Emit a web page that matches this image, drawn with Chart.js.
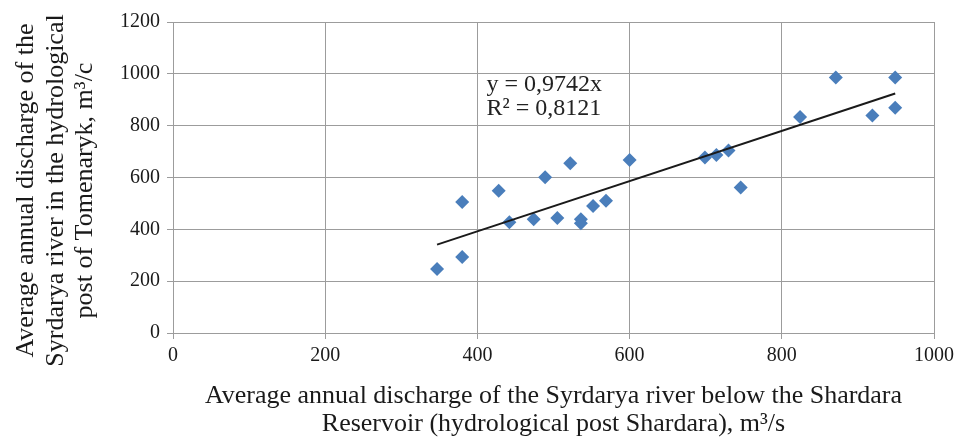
<!DOCTYPE html>
<html>
<head>
<meta charset="utf-8">
<script src="https://cdn.jsdelivr.net/npm/chart.js@4.4.1/dist/chart.umd.min.js"></script>
<style>
    html, body { margin: 0; padding: 0; background: #fff; }
    #wrap { width: 955px; height: 438px; }
</style>
</head>
<body>
<div id="wrap"><canvas id="dischargeChart" width="955" height="438"></canvas></div>
<script>
// Average annual discharge, Shardara post (x) vs Tomenaryk post (y), m3/s
const shardaraFlow = [347, 380, 380, 428, 442, 474, 489, 505, 522, 536, 536, 552,
                      569, 600, 699, 714, 730, 746, 824, 871, 919, 949, 949];
const tomenarykFlow = [247, 293, 505, 549, 427, 439, 601, 444, 655, 439, 423, 490,
                       510, 668, 677, 687, 704, 561, 833, 986, 839, 986, 869];

// Trend line end points (y = 0,9742x)
const trendX = [347, 949];
const trendY = [341, 924];
const trendText = ['y = 0,9742x', 'R\u00B2 = 0,8121'];
const trendTextAt = [412, 957];

// Axis ticks
const xTicks = [0, 200, 400, 600, 800, 1000];
const yTicks = [0, 200, 400, 600, 800, 1000, 1200];

const xTitle = ['Average annual discharge of the Syrdarya river below the Shardara',
                'Reservoir (hydrological post Shardara), m\u00B3/s'];
// trailing no-break spaces nudge the rotated title a little lower, as in the original
const NB = '\u00A0\u00A0\u00A0\u00A0';
const yTitle = ['Average annual discharge of the' + NB,
                'Syrdarya river in the hydrological' + NB,
                'post of Tomenaryk, m\u00B3/c' + NB];

const SERIF = "'Liberation Serif', 'Times New Roman', serif";
const GRID = '#9c9c9c';
const INK = '#1a1a1a';

// Draw the trend equation next to the line
const trendLabelPlugin = {
    id: 'trendLabel',
    afterDatasetsDraw(chart) {
        const { ctx, scales } = chart;
        const px = scales.x.getPixelForValue(trendTextAt[0]);
        const py = scales.y.getPixelForValue(trendTextAt[1]);
        ctx.save();
        ctx.font = '24px ' + SERIF;
        ctx.fillStyle = '#222';
        ctx.textBaseline = 'middle';
        ctx.textAlign = 'left';
        trendText.forEach((t, i) => ctx.fillText(t, px, py + i * 24));
        ctx.restore();
    }
};

const points = shardaraFlow.map((v, i) => ({ x: v, y: tomenarykFlow[i] }));
const trend = trendX.map((v, i) => ({ x: v, y: trendY[i] }));

new Chart(document.getElementById('dischargeChart'), {
    type: 'scatter',
    data: {
        datasets: [
            {
                label: 'Discharge',
                data: points,
                pointStyle: 'rectRot',
                pointRadius: 7,
                backgroundColor: '#4a7ebb',
                borderColor: '#4a7ebb',
                borderWidth: 0,
                order: 2
            },
            {
                label: 'Linear trend',
                type: 'line',
                data: trend,
                borderColor: INK,
                borderWidth: 2,
                pointRadius: 0,
                fill: false,
                order: 1
            }
        ]
    },
    options: {
        responsive: false,
        animation: false,
        layout: { padding: { left: 0, right: 21, top: 22, bottom: 0 } },
        plugins: {
            legend: { display: false },
            tooltip: { enabled: false }
        },
        scales: {
            x: {
                type: 'linear',
                min: 0,
                max: 1000,
                afterBuildTicks: s => { s.ticks = xTicks.map(v => ({ value: v })); },
                afterFit: s => { s.height = 105; s.paddingLeft = 0; s.paddingRight = 0; },
                grid: { color: GRID, tickLength: 6, lineWidth: 1 },
                border: { color: GRID, width: 1 },
                ticks: {
                    color: INK,
                    padding: 5,
                    font: { family: SERIF, size: 20 },
                    callback: v => String(v)
                },
                title: {
                    display: true,
                    text: xTitle,
                    color: INK,
                    font: { family: SERIF, size: 26, lineHeight: 1.08 },
                    padding: { top: 0, bottom: 0 }
                }
            },
            y: {
                type: 'linear',
                min: 0,
                max: 1200,
                afterBuildTicks: s => { s.ticks = yTicks.map(v => ({ value: v })); },
                afterFit: s => { s.width = 173; s.paddingTop = 0; s.paddingBottom = 0; },
                grid: { color: GRID, tickLength: 6, lineWidth: 1 },
                border: { color: GRID, width: 1 },
                ticks: {
                    color: INK,
                    padding: 7,
                    font: { family: SERIF, size: 20 },
                    callback: v => String(v)
                },
                title: {
                    display: true,
                    text: yTitle,
                    color: INK,
                    font: { family: SERIF, size: 26, lineHeight: 1.12 },
                    padding: { top: 12, bottom: 0 }
                }
            }
        }
    },
    plugins: [trendLabelPlugin]
});
</script>
</body>
</html>
